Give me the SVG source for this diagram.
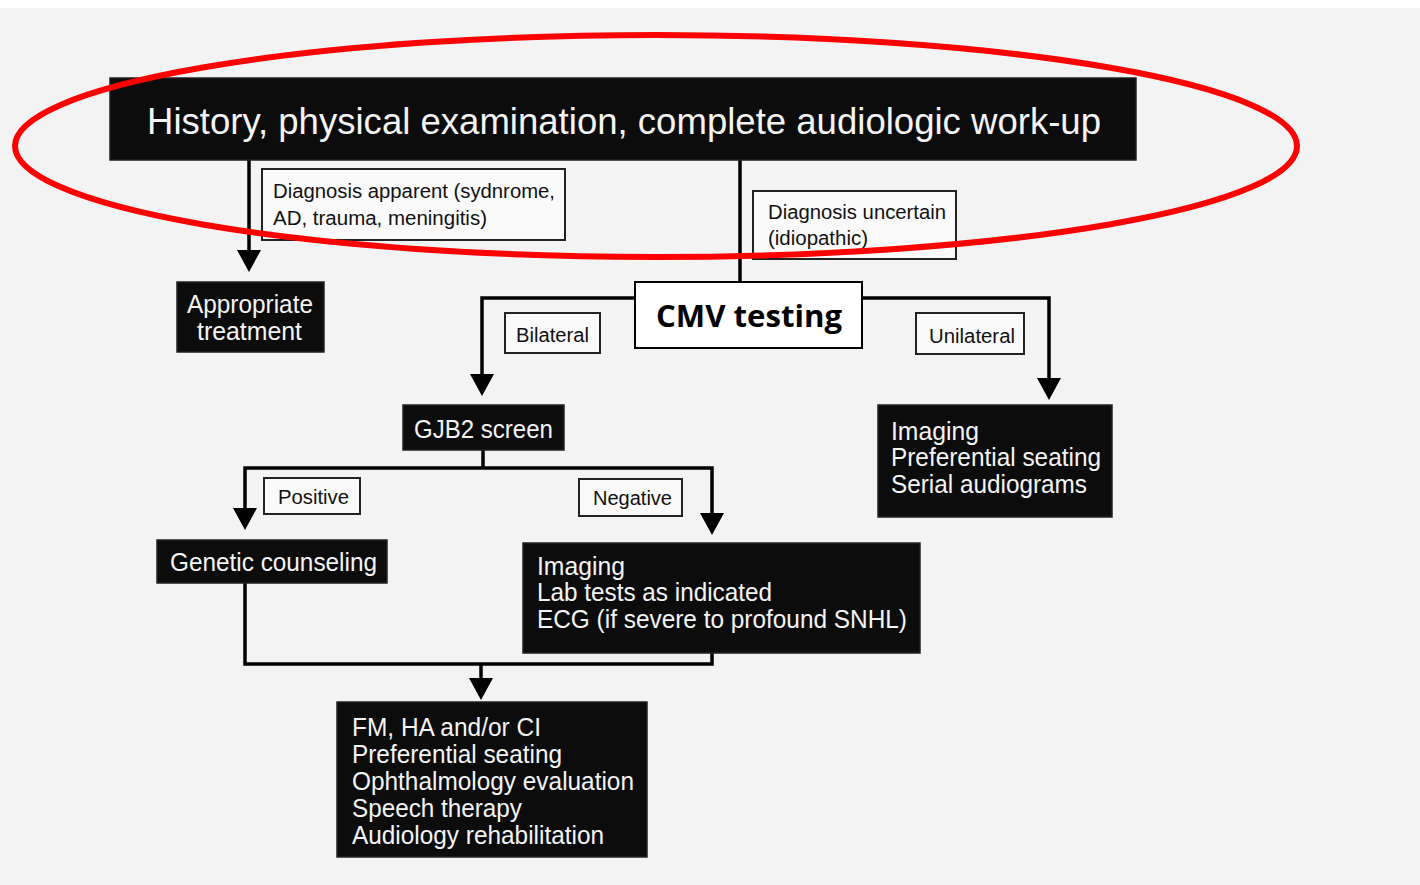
<svg xmlns="http://www.w3.org/2000/svg" width="1420" height="885" viewBox="0 0 1420 885">
<defs>
<style>
.blk{fill:#0c0c0c;stroke:#222;stroke-width:1.5}
.lbl{fill:#fafafa;stroke:#222;stroke-width:2}
.wt{fill:#f4f4f4;font-family:"Liberation Sans",Arial,sans-serif;font-size:25px}
.bt{fill:#111;font-family:"Liberation Sans",Arial,sans-serif;font-size:20px}
.ln{fill:none;stroke:#000;stroke-width:3.5}
</style>
</defs>
<rect width="1420" height="885" fill="#f3f3f3"/>
<rect width="1420" height="8" fill="#ffffff"/>

<g id="connectors">
<path class="ln" d="M249,160 V250"/>
<path d="M237,250 L261,250 L249,272 Z"/>
<path class="ln" d="M740,160 V283"/>
<path class="ln" d="M635,298 H482 V374"/>
<path d="M470,374 L494,374 L482,396 Z"/>
<path class="ln" d="M862,298 H1049 V378"/>
<path d="M1037,378 L1061,378 L1049,400 Z"/>
<path class="ln" d="M483,450 V468"/>
<path class="ln" d="M245,508 V468 H712 V513"/>
<path d="M233,508 L257,508 L245,530 Z"/>
<path d="M700,513 L724,513 L712,535 Z"/>
<path class="ln" d="M245,583 V664 H712 V653"/>
<path class="ln" d="M481,664 V679"/>
<path d="M469,678 L493,678 L481,700 Z"/>
</g>

<g id="history">
<rect class="blk" x="110" y="78" width="1026" height="82"/>
<text class="wt" x="147" y="134" style="font-size:37px" textLength="954" lengthAdjust="spacingAndGlyphs">History, physical examination, complete audiologic work-up</text>
</g>

<g id="diag-apparent">
<rect class="lbl" x="262" y="169" width="303" height="71"/>
<text class="bt" x="273" y="198" textLength="282" lengthAdjust="spacingAndGlyphs">Diagnosis apparent (sydnrome,</text>
<text class="bt" x="273" y="225" textLength="214" lengthAdjust="spacingAndGlyphs">AD, trauma, meningitis)</text>
</g>

<g id="appropriate">
<rect class="blk" x="177" y="282" width="147" height="70"/>
<text class="wt" x="187" y="313" textLength="126" lengthAdjust="spacingAndGlyphs">Appropriate</text>
<text class="wt" x="197" y="340" textLength="105" lengthAdjust="spacingAndGlyphs">treatment</text>
</g>

<g id="diag-uncertain">
<rect class="lbl" x="753" y="191" width="203" height="68"/>
<text class="bt" x="768" y="219" textLength="178" lengthAdjust="spacingAndGlyphs">Diagnosis uncertain</text>
<text class="bt" x="768" y="245" textLength="100" lengthAdjust="spacingAndGlyphs">(idiopathic)</text>
</g>

<g id="cmv">
<rect x="635" y="282" width="227" height="66" fill="#fff" stroke="#000" stroke-width="2"/>
<text x="656" y="327" style="font-family:'Open Sans','Liberation Sans',sans-serif;font-weight:bold;font-size:30px" fill="#000" textLength="186" lengthAdjust="spacingAndGlyphs">CMV testing</text>
</g>

<g id="bilateral">
<rect class="lbl" x="505" y="313" width="95" height="40"/>
<text class="bt" x="516" y="342" textLength="73" lengthAdjust="spacingAndGlyphs">Bilateral</text>
</g>

<g id="unilateral">
<rect class="lbl" x="916" y="313" width="108" height="41"/>
<text class="bt" x="929" y="343" textLength="86" lengthAdjust="spacingAndGlyphs">Unilateral</text>
</g>

<g id="gjb2">
<rect class="blk" x="403" y="405" width="161" height="45"/>
<text class="wt" x="414" y="438" textLength="139" lengthAdjust="spacingAndGlyphs">GJB2 screen</text>
</g>

<g id="unilateral-plan">
<rect class="blk" x="878" y="405" width="234" height="112"/>
<text class="wt" x="891" y="440" textLength="88" lengthAdjust="spacingAndGlyphs">Imaging</text>
<text class="wt" x="891" y="466" textLength="210" lengthAdjust="spacingAndGlyphs">Preferential seating</text>
<text class="wt" x="891" y="493" textLength="196" lengthAdjust="spacingAndGlyphs">Serial audiograms</text>
</g>

<g id="positive">
<rect class="lbl" x="264" y="478" width="96" height="36"/>
<text class="bt" x="278" y="504" textLength="71" lengthAdjust="spacingAndGlyphs">Positive</text>
</g>

<g id="negative">
<rect class="lbl" x="579" y="479" width="103" height="37"/>
<text class="bt" x="593" y="505" textLength="79" lengthAdjust="spacingAndGlyphs">Negative</text>
</g>

<g id="genetic">
<rect class="blk" x="157" y="540" width="230" height="43"/>
<text class="wt" x="170" y="571" textLength="207" lengthAdjust="spacingAndGlyphs">Genetic counseling</text>
</g>

<g id="negative-plan">
<rect class="blk" x="523" y="543" width="397" height="110"/>
<text class="wt" x="537" y="575" textLength="88" lengthAdjust="spacingAndGlyphs">Imaging</text>
<text class="wt" x="537" y="601" textLength="235" lengthAdjust="spacingAndGlyphs">Lab tests as indicated</text>
<text class="wt" x="537" y="628" textLength="370" lengthAdjust="spacingAndGlyphs">ECG (if severe to profound SNHL)</text>
</g>

<g id="management">
<rect class="blk" x="337" y="702" width="310" height="155"/>
<text class="wt" x="352" y="736" textLength="189" lengthAdjust="spacingAndGlyphs">FM, HA and/or CI</text>
<text class="wt" x="352" y="763" textLength="210" lengthAdjust="spacingAndGlyphs">Preferential seating</text>
<text class="wt" x="352" y="790" textLength="282" lengthAdjust="spacingAndGlyphs">Ophthalmology evaluation</text>
<text class="wt" x="352" y="817" textLength="170" lengthAdjust="spacingAndGlyphs">Speech therapy</text>
<text class="wt" x="352" y="844" textLength="252" lengthAdjust="spacingAndGlyphs">Audiology rehabilitation</text>
</g>

<g id="highlight">
<ellipse cx="656" cy="146" rx="641" ry="111" fill="none" stroke="#ff0000" stroke-width="6"/>
</g>
</svg>
